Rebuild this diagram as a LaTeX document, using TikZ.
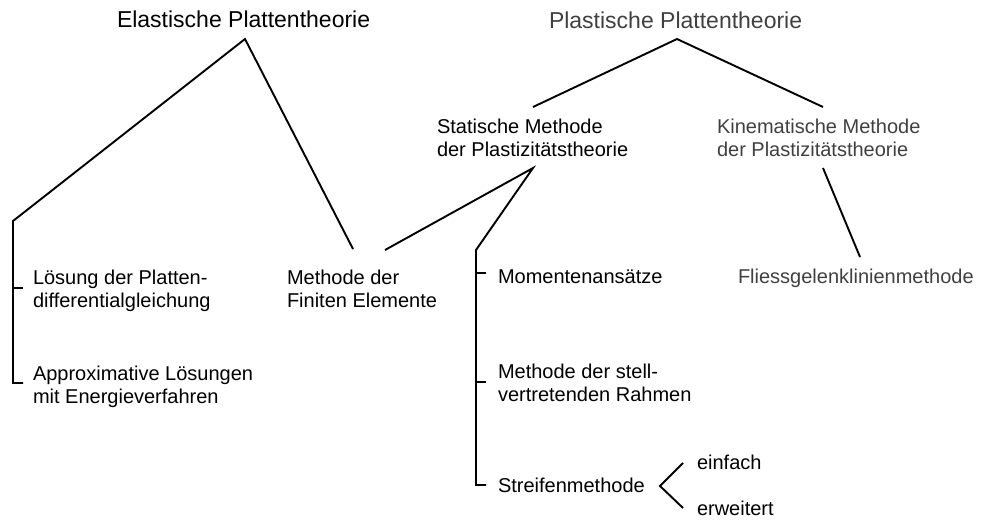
\documentclass[tikz,border=0pt]{standalone}
\usepackage{fontspec}
\setmainfont{Liberation Sans}
\definecolor{txtgray}{HTML}{404040}
\begin{document}
\begin{tikzpicture}[x=1pt,y=-1pt,
  lbl/.style={anchor=base west,inner sep=0pt,outer sep=0pt,align=left,
    font=\fontsize{20}{23.5}\selectfont},
  ttl/.style={anchor=base west,inner sep=0pt,outer sep=0pt,
    font=\fontsize{23}{27}\selectfont},
  gr/.style={text=txtgray},
  conn/.style={line width=1.9pt,line join=miter,line cap=butt}]
\useasboundingbox (0,0) rectangle (984,525);

% titles
\node[ttl] (el) at (117,27) {Elastische Plattentheorie};
\node[ttl,gr] (pl) at (549,28) {Plastische Plattentheorie};

% second level (anchored at baseline of last line)
\node[lbl] (st) at (437,156.5) {Statische Methode\\der Plastizitätstheorie};
\node[lbl,gr] (ki) at (717,156.5) {Kinematische Methode\\der Plastizitätstheorie};

% leaves
\node[lbl] (loe) at (33,307.5) {Lösung der Platten-\\differentialgleichung};
\node[lbl] (app) at (33,403.5) {Approximative Lösungen\\mit Energieverfahren};
\node[lbl] (fem) at (287,307.5) {Methode der\\Finiten Elemente};
\node[lbl] (mom) at (498,283) {Momentenansätze};
\node[lbl] (rah) at (498,401.5) {Methode der stell-\\vertretenden Rahmen};
\node[lbl] (str) at (498,492) {Streifenmethode};
\node[lbl,gr] (fli) at (738,283) {Fliessgelenklinienmethode};
\node[lbl] (ein) at (697,469) {einfach};
\node[lbl] (erw) at (697,515) {erweitert};

% connector points
\coordinate (elA) at (245,39);
\coordinate (elL) at (13,221);
\coordinate (elB) at (13,383);
\coordinate (loeT) at (23,288);
\coordinate (loeV) at (13,288);
\coordinate (appT) at (23,383);
\coordinate (femE) at (353,249);

\coordinate (plA) at (677,39);
\coordinate (stE) at (533,107);
\coordinate (kiE) at (823,107);

\coordinate (stA) at (533,168);
\coordinate (femS) at (385,250);
\coordinate (stL) at (476,250);
\coordinate (stB) at (476,485);
\coordinate (momV) at (476,273);
\coordinate (momT) at (486,273);
\coordinate (rahV) at (476,382);
\coordinate (rahT) at (486,382);
\coordinate (strT) at (486,485);

\coordinate (kiA) at (823,168);
\coordinate (fliE) at (860,257);

\coordinate (angU) at (683,463);
\coordinate (angV) at (660,486);
\coordinate (angD) at (683,508);

% connectors
\draw[conn] (femE) -- (elA) -- (elL) -- (elB) -- (appT);
\draw[conn] (loeV) -- (loeT);
\draw[conn] (stE) -- (plA) -- (kiE);
\draw[conn] (femS) -- (stA) -- (stL) -- (stB) -- (strT);
\draw[conn] (momV) -- (momT);
\draw[conn] (rahV) -- (rahT);
\draw[conn] (kiA) -- (fliE);
\draw[conn] (angU) -- (angV) -- (angD);
\end{tikzpicture}
\end{document}
